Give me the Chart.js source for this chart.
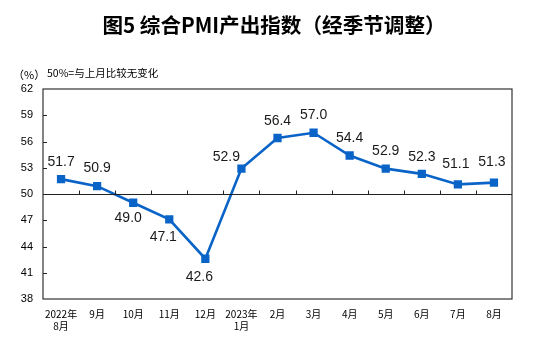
<!DOCTYPE html>
<html>
<head>
<meta charset="utf-8">
<script src="https://cdn.jsdelivr.net/npm/chart.js@4/dist/chart.umd.min.js"></script>
<style>
html,body{margin:0;padding:0;background:#fff;}
#wrap{position:relative;width:554px;height:345px;}
canvas{display:block;}
</style>
</head>
<body>
<div id="wrap"><canvas id="c" width="554" height="345"></canvas></div>
<script>
const titleText = '图5 综合PMI产出指数（经季节调整）';
const unitText = '（%）';
const noteText = '50%=与上月比较无变化';
const categories = [['2022年','8月'],'9月','10月','11月','12月',['2023年','1月'],'2月','3月','4月','5月','6月','7月','8月'];
const pmiValues = [51.7,50.9,49.0,47.1,42.6,52.9,56.4,57.0,54.4,52.9,52.3,51.1,51.3];
const yMin = 38, yMax = 62, yStep = 3, baseline = 50;

// label offsets (dx, dy) relative to point
const labelDX = [0,0,-5,-6,-6,-15,0,0,0,0,0,-2,-2];
const labelDY = [-17,-18,15,18,18,-11,-17,-18,-17,-17,-17,-20,-20];

const deco = {
  id:'deco',
  afterDraw(chart){
    const ctx = chart.ctx, a = chart.chartArea;
    const y = chart.scales.y;
    ctx.save();
    ctx.fillStyle = '#000';
    ctx.font = 'bold 20.6px "Noto Sans CJK SC"';
    ctx.textAlign = 'center'; ctx.textBaseline = 'middle';
    ctx.fillText(titleText, 274, 25);
    ctx.font = '11px "Noto Sans CJK SC"';
    ctx.textAlign = 'left';
    ctx.fillText(unitText, 13, 75);
    ctx.font = '10.5px "Noto Sans CJK SC"';
    ctx.fillText(noteText, 47, 73);
    ctx.strokeStyle = '#333'; ctx.lineWidth = 1.2;
    ctx.strokeRect(a.left, a.top, a.right - a.left, a.bottom - a.top);
    const yb = Math.round(y.getPixelForValue(baseline)) + 0.5;
    ctx.lineWidth = 1; ctx.strokeStyle = '#222';
    ctx.beginPath(); ctx.moveTo(a.left, yb); ctx.lineTo(a.right, yb); ctx.stroke();
    const n = categories.length;
    const step = (a.right - a.left) / n;
    ctx.beginPath();
    for (let i = 1; i < n; i++) {
      const xx = Math.round(a.left + i * step) + 0.5;
      ctx.moveTo(xx, yb); ctx.lineTo(xx, yb - 4);
    }
    for (let v = yMin + yStep; v < yMax; v += yStep) {
      const yy = Math.round(y.getPixelForValue(v)) + 0.5;
      ctx.moveTo(a.left, yy); ctx.lineTo(a.left + 4, yy);
    }
    ctx.stroke();
    ctx.restore();
  },
  afterDatasetsDraw(chart){
    const ctx = chart.ctx;
    const meta = chart.getDatasetMeta(0);
    ctx.save();
    ctx.font = '14px "Liberation Sans", Arial';
    ctx.fillStyle = '#1a1a1a';
    ctx.textAlign = 'center'; ctx.textBaseline = 'middle';
    meta.data.forEach((pt, i) => {
      ctx.fillText(pmiValues[i].toFixed(1), pt.x + labelDX[i], pt.y + labelDY[i]);
    });
    ctx.restore();
  }
};

new Chart(document.getElementById('c'), {
  type:'line',
  data:{
    labels:categories,
    datasets:[{
      data:pmiValues,
      borderColor:'#0a64c8',
      backgroundColor:'#0a64c8',
      borderWidth:2.6,
      pointStyle:'rect',
      pointRadius:4,
      pointHoverRadius:4,
      tension:0
    }]
  },
  options:{
    responsive:false,
    animation:false,
    events:[],
    layout:{padding:{top:89, right:42, left:0, bottom:0}},
    plugins:{legend:{display:false}, title:{display:false}, tooltip:{enabled:false}},
    scales:{
      x:{
        offset:true,
        grid:{display:false, drawTicks:false},
        border:{display:false},
        ticks:{color:'#000', font:{family:'"Noto Sans CJK SC"', size:10}, padding:9, maxRotation:0, autoSkip:false},
        afterFit(s){ s.height = 46; }
      },
      y:{
        min:yMin, max:yMax,
        grid:{display:false, drawTicks:false},
        border:{display:false},
        ticks:{stepSize:yStep, color:'#000', font:{family:'"Liberation Sans", Arial', size:11}, padding:10},
        afterFit(s){ s.width = 43; }
      }
    }
  },
  plugins:[deco]
});
</script>
</body>
</html>
